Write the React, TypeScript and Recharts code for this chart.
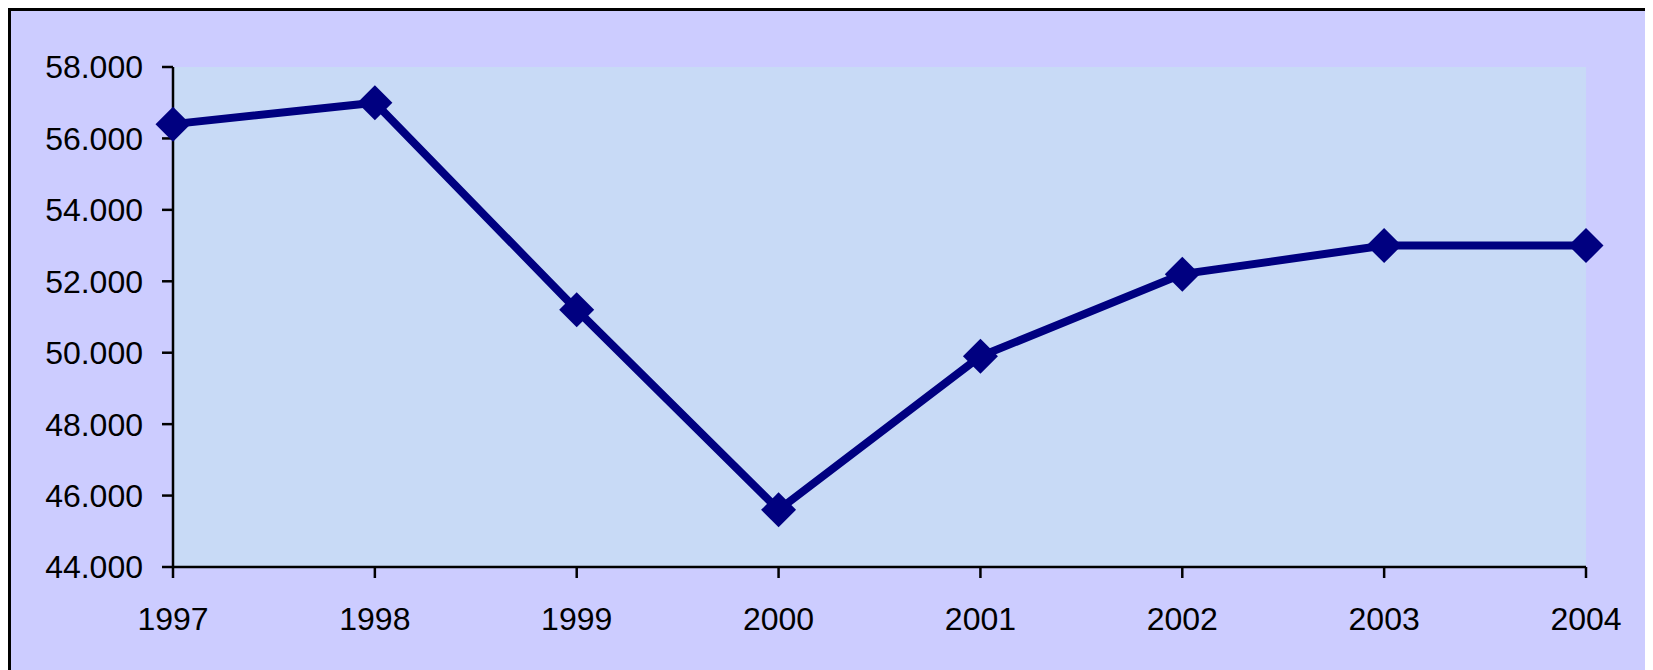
import React from 'react';
import { LineChart, Line, XAxis, YAxis, CartesianGrid } from 'recharts';

const years = [1997, 1998, 1999, 2000, 2001, 2002, 2003, 2004];
const values = [56400, 57000, 51200, 45600, 49900, 52200, 53000, 53000];
const yTicks = [44000, 46000, 48000, 50000, 52000, 54000, 56000, 58000];

const data = years.map((year, i) => ({ year, value: values[i] }));

const Diamond = (props: any) => {
  const { cx, cy } = props;
  if (cx == null || cy == null) return null;
  const r = 17.5;
  return (
    <polygon
      points={`${cx},${cy - r} ${cx + r},${cy} ${cx},${cy + r} ${cx - r},${cy}`}
      fill="#000080"
      stroke="none"
    />
  );
};

const fontFamily = '"Liberation Sans", Arial, sans-serif';

export default function App() {
  return (
    <div style={{ width: 1644, height: 662, overflow: 'hidden' }}>
      <div
        style={{
          width: 1638,
          height: 680,
          border: '3px solid #000',
          background: '#CCCCFF',
        }}
      >
        <LineChart
          width={1638}
          height={660}
          data={data}
          margin={{ top: 56, right: 63, bottom: 44, left: 0 }}
        >
          <CartesianGrid
            horizontal={false}
            vertical={false}
            fill="#C8DAF6"
            fillOpacity={1}
            stroke="none"
          />
          <XAxis
            dataKey="year"
            type="number"
            domain={[1997, 2004]}
            ticks={years}
            interval={0}
            height={60}
            tickSize={11}
            tickMargin={29}
            axisLine={{ stroke: '#000', strokeWidth: 2.5 }}
            tickLine={{ stroke: '#000', strokeWidth: 2.5 }}
            tick={{ fill: '#000', fontSize: 32, fontFamily }}
          />
          <YAxis
            type="number"
            domain={[44000, 58000]}
            ticks={yTicks}
            interval={0}
            width={162}
            tickSize={11}
            tickMargin={19}
            tickFormatter={(v: number) => (v / 1000).toFixed(3)}
            axisLine={{ stroke: '#000', strokeWidth: 2.5 }}
            tickLine={{ stroke: '#000', strokeWidth: 2.5 }}
            tick={{ fill: '#000', fontSize: 32, fontFamily }}
          />
          <Line
            dataKey="value"
            stroke="#000080"
            strokeWidth={8}
            dot={<Diamond />}
            activeDot={false}
            isAnimationActive={false}
          />
        </LineChart>
      </div>
    </div>
  );
}
